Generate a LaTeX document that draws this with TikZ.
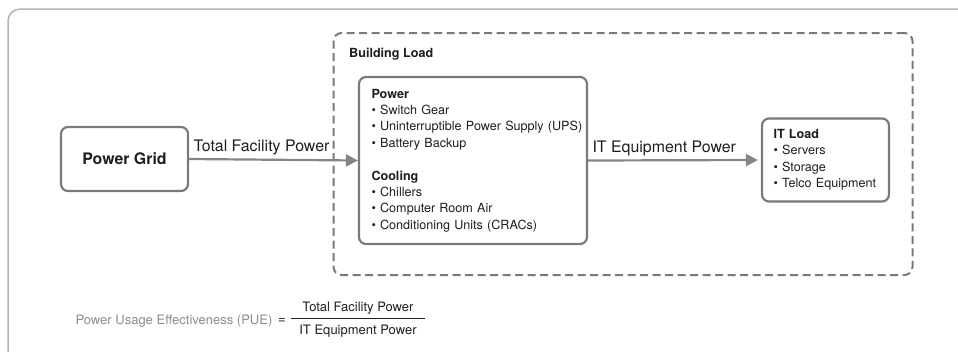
\documentclass[tikz,border=0pt]{standalone}
\usepackage{fontspec}
\setmainfont{TeX Gyre Heros}
\usetikzlibrary{arrows.meta}
\definecolor{pframe}{HTML}{B4B4B4}
\definecolor{pline}{HTML}{7A7A7A}
\definecolor{parrow}{HTML}{858585}
\definecolor{ptext}{HTML}{1E1E1E}
\definecolor{pgrey}{HTML}{8C8C8C}

\begin{document}
\begin{tikzpicture}[x=1pt,y=-1pt,
  box/.style={draw=pline,line width=2.2pt,rounded corners=7pt,text=ptext},
  flow/.style={draw=parrow,line width=2.2pt,-{Triangle[length=12pt,width=12pt]}},
  small/.style={font=\fontsize{12.6}{16.4}\selectfont},
  smallbold/.style={font=\fontsize{12.6}{16.4}\selectfont\bfseries},
  formula/.style={font=\fontsize{13}{16}\selectfont},
  big/.style={font=\fontsize{15.9}{18}\selectfont,text=ptext},
  bigbold/.style={font=\fontsize{15.9}{18}\selectfont\bfseries,text=ptext}]
  \useasboundingbox (0,0) rectangle (958,351);

  % Outer frame (runs off the right and bottom edges)
  \draw[pframe,line width=1.5pt,rounded corners=12pt] (8,9) rectangle (990,380);

  % Building load (dashed group)
  \node[draw=pline,line width=2pt,dash pattern=on 8pt off 4.5pt,rounded corners=8pt,
        minimum width=579pt,minimum height=242pt] (bldg) at (623,154) {};
  \node[smallbold,text=ptext,anchor=base west,inner sep=0pt] (bldglbl) at (349,57) {Building Load};

  % The three stations
  \node[box,bigbold,minimum width=127pt,minimum height=64pt] (grid) at (124.5,159) {Power Grid};

  \node[box,small,text width=203pt,align=left,inner xsep=12.5pt,
        minimum width=228pt,minimum height=167pt] (fac) at (473,160.5) {%
    \textbf{Power}\\
    \textbullet\ Switch Gear\\
    \mbox{\textbullet\ Uninterruptible Power Supply (UPS)}\\
    \textbullet\ Battery Backup\\[16.4pt]
    \textbf{Cooling}\\
    \textbullet\ Chillers\\
    \textbullet\ Computer Room Air\\
    \mbox{\textbullet\ Conditioning Units (CRACs)}};

  \node[box,small,text width=104pt,align=left,inner xsep=11.5pt,
        minimum width=127pt,minimum height=83pt] (itload) at (825.5,160) {%
    \textbf{IT Load}\\[-0.6pt]
    \textbullet\ Servers\\
    \textbullet\ Storage\\
    \mbox{\textbullet\ Telco Equipment}};

  % Power flows
  \draw[flow] (grid.east) -- node[big,pos=0,anchor=south west] (tfp) {Total Facility Power} (fac.west);
  \draw[flow,shorten >=3pt] (fac.east) -- node[big,pos=0,anchor=south west] (iep) {IT Equipment Power} (itload.west);

  % PUE formula
  \node[formula,text=pgrey,anchor=west] (pue) at (72,321) {Power Usage Effectiveness (PUE)};
  \node[formula,text=ptext,anchor=west,inner xsep=2pt] (eq) at (pue.east) {=};
  \node[formula,text=ptext] (num) at (358,308) {Total Facility Power};
  \node[formula,text=ptext] (den) at (358,331) {IT Equipment Power};
  \draw[ptext,line width=1.3pt] (291,318.5) -- (425,318.5);
\end{tikzpicture}
\end{document}
